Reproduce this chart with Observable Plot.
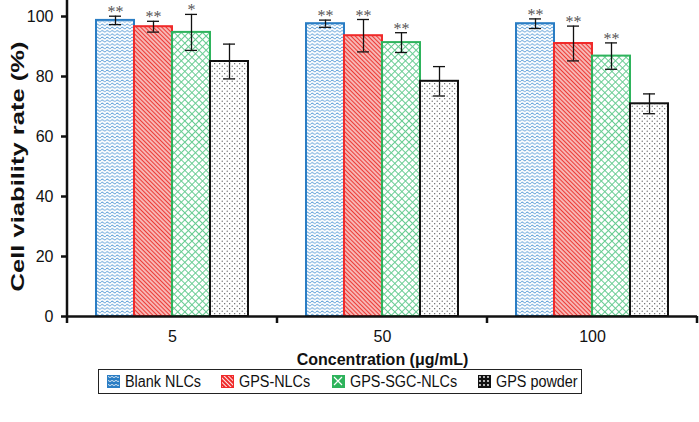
<!DOCTYPE html>
<html>
<head>
<meta charset="utf-8">
<script src="https://cdn.jsdelivr.net/npm/d3@7"></script>
<script src="https://cdn.jsdelivr.net/npm/@observablehq/plot@0.6"></script>
<style>
  html, body { margin: 0; padding: 0; background: #fff; }
  body { width: 699px; height: 422px; overflow: hidden; font-family: "Liberation Sans", Arial, sans-serif; }
  #chart svg { display: block; }
  g[aria-label="y-axis label"] text { font-weight: 700; font-size: 18px; fill: #111; }
  g[aria-label="fx-axis label"] text { font-weight: 700; font-size: 16px; fill: #111; }
  #legend { margin-left: 98px; width: 484px; height: 25px; box-sizing: border-box; border: 1px solid #222;
            display: flex; align-items: center; font-size: 16px; color: #111; margin-top: 1px; }
  .item { display: flex; align-items: center; white-space: nowrap; }
  .item svg { margin-right: 5px; flex: none; }
  .item span { display: inline-block; transform: scaleX(0.9); transform-origin: left center; }
</style>
</head>
<body>
<svg width="0" height="0" style="position:absolute">
  <defs>
    <pattern id="pBlue" width="5" height="3.3" patternUnits="userSpaceOnUse">
      <rect width="5" height="3.3" fill="#fff"/>
      <path d="M0,1.65 Q1.25,0.2 2.5,1.65 T5,1.65" fill="none" stroke="#5c9fd8" stroke-width="0.85"/>
    </pattern>
    <pattern id="pRed" width="3" height="3" patternUnits="userSpaceOnUse" patternTransform="rotate(45)">
      <rect width="3" height="3" fill="#fff"/>
      <line x1="0" y1="1.5" x2="3" y2="1.5" stroke="#ec3b36" stroke-width="1.75"/>
    </pattern>
    <pattern id="pGreen" width="5" height="5" patternUnits="userSpaceOnUse" patternTransform="rotate(45)">
      <rect width="5" height="5" fill="#fff"/>
      <path d="M0,0.5 H5 M0.5,0 V5" stroke="#68cc92" stroke-width="1"/>
    </pattern>
    <pattern id="pBlack" width="5" height="5" patternUnits="userSpaceOnUse">
      <rect width="5" height="5" fill="#fff"/>
      <circle cx="1.2" cy="1.2" r="0.6" fill="#444"/>
      <circle cx="3.7" cy="3.7" r="0.6" fill="#444"/>
    </pattern>
    <pattern id="lBlue" width="4" height="4" patternUnits="userSpaceOnUse">
      <rect width="4" height="4" fill="#2a7dc4"/>
      <path d="M0,2 Q1,0.8 2,2 T4,2" fill="none" stroke="#fff" stroke-width="0.8"/>
    </pattern>
    <pattern id="lRed" width="3" height="3" patternUnits="userSpaceOnUse" patternTransform="rotate(45)">
      <rect width="3" height="3" fill="#f02a2a"/>
      <line x1="0" y1="1.5" x2="3" y2="1.5" stroke="#fff" stroke-width="0.9"/>
    </pattern>
    <pattern id="lGreen" width="12" height="12" patternUnits="userSpaceOnUse">
      <rect width="12" height="12" fill="#2eb35c"/>
      <path d="M2,2 L10,10 M10,2 L2,10" stroke="#fff" stroke-width="1.2"/>
    </pattern>
    <pattern id="lBlack" width="4" height="4" patternUnits="userSpaceOnUse">
      <rect width="4" height="4" fill="#111"/>
      <circle cx="2" cy="2" r="0.9" fill="#fff"/>
    </pattern>
  </defs>
</svg>
<div id="chart"></div>
<div id="legend"></div>
<script>
// ---- data ----
const concs = ["5", "50", "100"];
const series = ["Blank NLCs", "GPS-NLCs", "GPS-SGC-NLCs", "GPS powder"];
const blankValues = [98.7, 97.6, 97.6];
const blankErrors = [1.4, 1.2, 1.6];
const blankSig = ["**", "**", "**"];
const gpsNlcValues = [96.6, 93.6, 91.0];
const gpsNlcErrors = [1.8, 5.4, 5.8];
const gpsNlcSig = ["**", "**", "**"];
const sgcValues = [94.7, 91.3, 86.8];
const sgcErrors = [6.0, 3.3, 4.4];
const sgcSig = ["*", "**", "**"];
const powderValues = [85.0, 78.4, 70.9];
const powderErrors = [5.8, 4.9, 3.3];
const powderSig = ["", "", ""];
const yTicks = [0, 20, 40, 60, 80, 100];
const xLabel = "Concentration (μg/mL)";
const yLabel = "Cell viability rate (%)";

// ---- styles ----
const colors = ["#2a7dc4", "#f02a2a", "#2eb35c", "#111111"];
const patterns = ["pBlue", "pRed", "pGreen", "pBlack"];
const legendPatterns = ["lBlue", "lRed", "lGreen", "lBlack"];

const values = [blankValues, gpsNlcValues, sgcValues, powderValues];
const errors = [blankErrors, gpsNlcErrors, sgcErrors, powderErrors];
const sigs = [blankSig, gpsNlcSig, sgcSig, powderSig];

const rows = concs.flatMap((c, i) => series.map((s, j) => ({
  conc: c, series: s, value: values[j][i], err: errors[j][i], sig: sigs[j][i], k: j
})));

const chart = Plot.plot({
  width: 699,
  height: 368,
  marginLeft: 66,
  marginRight: 2,
  marginTop: 16,
  marginBottom: 52,
  style: { fontFamily: "'Liberation Sans', Arial, sans-serif", fontSize: "16px", color: "#111", background: "#fff", overflow: "visible" },
  fx: { domain: concs, padding: 0, label: null },
  x: { domain: series, paddingInner: 0, paddingOuter: 0.72, axis: null },
  y: { domain: [0, 100], axis: null },
  color: { type: "identity" },
  marks: [
    Plot.barY(rows, { fx: "conc", x: "series", y: "value",
      fill: d => `url(#${patterns[d.k]})`, stroke: d => colors[d.k], strokeWidth: 2 }),
    Plot.ruleX(rows, { fx: "conc", x: "series", y1: d => d.value - d.err, y2: d => d.value + d.err,
      stroke: "#111", strokeWidth: 1.3 }),
    Plot.tickY(rows, { fx: "conc", x: "series", y: d => d.value + d.err, insetLeft: 13, insetRight: 13,
      stroke: "#111", strokeWidth: 1.3 }),
    Plot.tickY(rows, { fx: "conc", x: "series", y: d => d.value - d.err, insetLeft: 13, insetRight: 13,
      stroke: "#111", strokeWidth: 1.3 }),
    Plot.text(rows.filter(d => d.sig), { fx: "conc", x: "series", y: d => d.value + d.err, text: "sig",
      lineAnchor: "bottom", dy: 1, fill: "#555", fontFamily: "'Liberation Serif', serif", fontSize: 16 }),
    Plot.ruleY([0], { stroke: "#111", strokeWidth: 2.5 }),
    Plot.axisY({ ticks: yTicks, tickSize: 6, tickPadding: 8, strokeWidth: 2.5, fontSize: 16,
      label: yLabel, labelAnchor: "center", labelOffset: 56, labelArrow: "none" }),
    Plot.axisFx({ anchor: "bottom", tickSize: 0, tickPadding: 14, fontSize: 16,
      label: xLabel, labelAnchor: "center", labelOffset: 48, labelArrow: "none" })
  ]
});
document.getElementById("chart").appendChild(chart);

// stretch the rotated y title to the reference's extent
d3.select(chart).selectAll('g[aria-label="y-axis label"] text')
  .attr("textLength", 250).attr("lengthAdjust", "spacingAndGlyphs");

// axis lines and group boundary ticks from the library's scales
const fxS = chart.scale("fx");
const yS = chart.scale("y");
const y0 = yS.apply(0);
const left = fxS.apply(concs[0]);
const ag = d3.select(chart).append("g").attr("stroke", "#111").attr("stroke-width", 2.5);
ag.append("line").attr("x1", left).attr("x2", left).attr("y1", 0).attr("y2", y0 + 7);
concs.forEach(c => {
  const xr = fxS.apply(c) + fxS.bandwidth;
  ag.append("line").attr("x1", xr).attr("x2", xr).attr("y1", y0).attr("y2", y0 + 7);
});

// legend
const widths = [114, 111, 146, 100];
const legend = d3.select("#legend");
series.forEach((s, j) => {
  const it = legend.append("div").attr("class", "item")
    .style("width", widths[j] + "px").style("margin-left", j === 0 ? "8px" : "0");
  const sw = it.append("svg").attr("width", 13).attr("height", 13);
  sw.append("rect").attr("x", 0.5).attr("y", 0.5).attr("width", 12).attr("height", 12)
    .attr("fill", `url(#${legendPatterns[j]})`).attr("stroke", colors[j]);
  it.append("span").text(s);
});
</script>
</body>
</html>
